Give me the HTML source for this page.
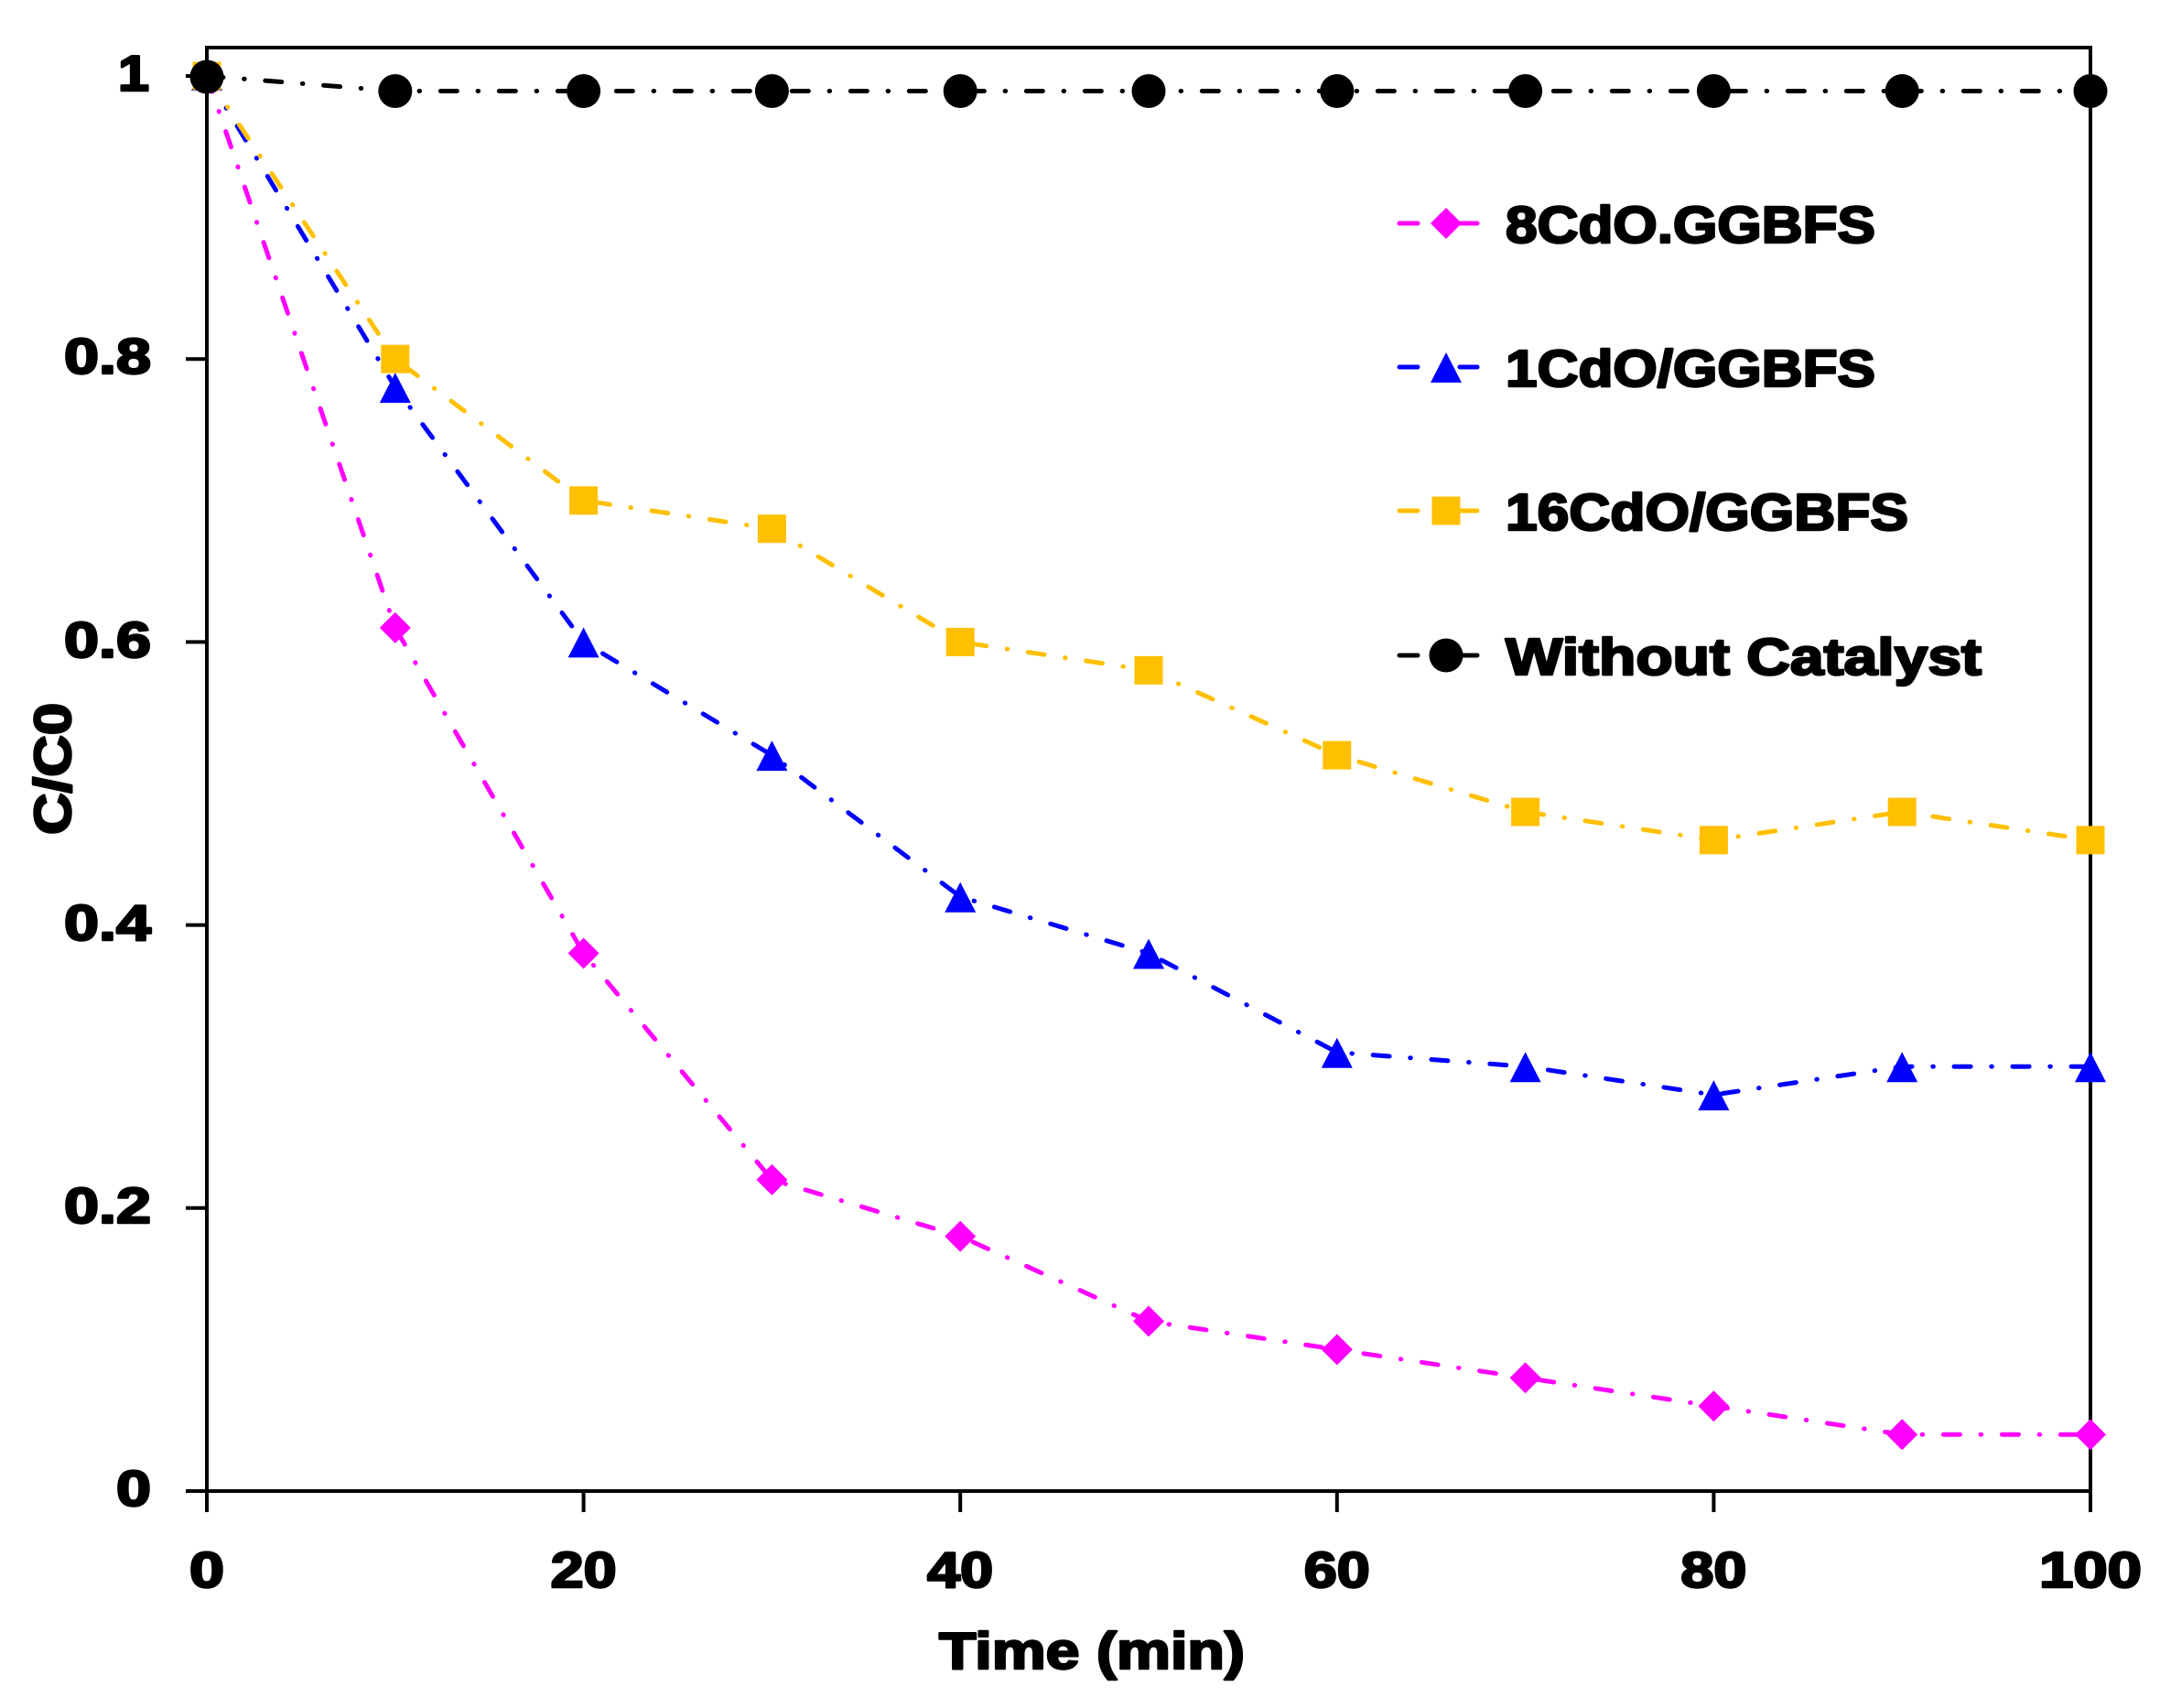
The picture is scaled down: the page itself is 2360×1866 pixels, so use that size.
<!DOCTYPE html>
<html>
<head>
<meta charset="utf-8">
<style>
  html, body { margin: 0; padding: 0; background: #ffffff; }
  svg { display: block; }
  .t { font-family: "Liberation Sans", Arial, sans-serif; font-weight: bold; fill: #000; stroke: #000; stroke-width: 2.5; stroke-linejoin: round; }
</style>
</head>
<body>
<svg width="2360" height="1866" viewBox="0 0 2360 1866" xmlns="http://www.w3.org/2000/svg">
  <rect x="0" y="0" width="2360" height="1866" fill="#ffffff"/>

  <!-- frame -->
  <rect x="226" y="52" width="2058" height="1577" fill="none" stroke="#000" stroke-width="4"/>

  <!-- y ticks -->
  <g stroke="#000" stroke-width="4">
    <line x1="203" y1="1629" x2="226" y2="1629"/>
    <line x1="203" y1="1319.8" x2="226" y2="1319.8"/>
    <line x1="203" y1="1010.6" x2="226" y2="1010.6"/>
    <line x1="203" y1="701.4" x2="226" y2="701.4"/>
    <line x1="203" y1="392.2" x2="226" y2="392.2"/>
    <line x1="203" y1="83" x2="226" y2="83"/>
  </g>
  <!-- x ticks -->
  <g stroke="#000" stroke-width="4">
    <line x1="226" y1="1629" x2="226" y2="1652"/>
    <line x1="637.6" y1="1629" x2="637.6" y2="1652"/>
    <line x1="1049.2" y1="1629" x2="1049.2" y2="1652"/>
    <line x1="1460.8" y1="1629" x2="1460.8" y2="1652"/>
    <line x1="1872.4" y1="1629" x2="1872.4" y2="1652"/>
    <line x1="2284" y1="1629" x2="2284" y2="1652"/>
  </g>

  <!-- y tick labels -->
  <g class="t" font-size="55" text-anchor="end">
    <text x="165" y="1645" textLength="38" lengthAdjust="spacingAndGlyphs">0</text>
    <text x="165" y="1336" textLength="95" lengthAdjust="spacingAndGlyphs">0.2</text>
    <text x="165" y="1027" textLength="95" lengthAdjust="spacingAndGlyphs">0.4</text>
    <text x="165" y="718" textLength="95" lengthAdjust="spacingAndGlyphs">0.6</text>
    <text x="165" y="408" textLength="95" lengthAdjust="spacingAndGlyphs">0.8</text>
    <text x="163" y="99" textLength="34" lengthAdjust="spacingAndGlyphs">1</text>
  </g>

  <!-- x tick labels -->
  <g class="t" font-size="55" text-anchor="middle">
    <text x="226" y="1734" textLength="38" lengthAdjust="spacingAndGlyphs">0</text>
    <text x="637.6" y="1734" textLength="72" lengthAdjust="spacingAndGlyphs">20</text>
    <text x="1049.2" y="1734" textLength="72" lengthAdjust="spacingAndGlyphs">40</text>
    <text x="1460.8" y="1734" textLength="72" lengthAdjust="spacingAndGlyphs">60</text>
    <text x="1872.4" y="1734" textLength="72" lengthAdjust="spacingAndGlyphs">80</text>
    <text x="2284" y="1734" textLength="112" lengthAdjust="spacingAndGlyphs">100</text>
  </g>

  <!-- axis titles -->
  <text class="t" font-size="57" x="1193" y="1823" text-anchor="middle" textLength="334" lengthAdjust="spacingAndGlyphs">Time (min)</text>
  <text class="t" font-size="57" text-anchor="middle" transform="translate(77,840) rotate(-90)" textLength="144" lengthAdjust="spacingAndGlyphs">C/C0</text>

  <!-- series lines -->
  <g fill="none" stroke-width="5" stroke-linecap="round" stroke-linejoin="round" stroke-dasharray="18 22.75 0.5 22.75">
    <polyline stroke="#FF00FF" points="226,83 431.8,685.9 637.6,1041.5 843.4,1288.9 1049.2,1350.7 1255,1443.5 1460.8,1474.4 1666.6,1505.3 1872.4,1536.2 2078.2,1567.2 2284,1567.2"/>
    <polyline stroke="#0000FF" points="226,83 431.8,423.1 637.6,701.4 843.4,825.1 1049.2,979.7 1255,1041.5 1460.8,1149.7 1666.6,1165.2 1872.4,1196.1 2078.2,1165.2 2284,1165.2"/>
    <polyline stroke="#FFC000" points="226,83 431.8,392.2 637.6,546.8 843.4,577.7 1049.2,701.4 1255,732.3 1460.8,825.1 1666.6,887 1872.4,917.8 2078.2,887 2284,917.8"/>
    <polyline stroke="#000000" points="226,83 431.8,99.5 637.6,99.5 843.4,99.5 1049.2,99.5 1255,99.5 1460.8,99.5 1666.6,99.5 1872.4,99.5 2078.2,99.5 2284,99.5"/>
  </g>

  <!-- magenta diamonds -->
  <g fill="#FF00FF">
    <polygon points="226,66 243,83 226,100 209,83"/>
    <polygon points="431.8,668.9 448.8,685.9 431.8,702.9 414.8,685.9"/>
    <polygon points="637.6,1024.5 654.6,1041.5 637.6,1058.5 620.6,1041.5"/>
    <polygon points="843.4,1271.9 860.4,1288.9 843.4,1305.9 826.4,1288.9"/>
    <polygon points="1049.2,1333.7 1066.2,1350.7 1049.2,1367.7 1032.2,1350.7"/>
    <polygon points="1255,1426.5 1272,1443.5 1255,1460.5 1238,1443.5"/>
    <polygon points="1460.8,1457.4 1477.8,1474.4 1460.8,1491.4 1443.8,1474.4"/>
    <polygon points="1666.6,1488.3 1683.6,1505.3 1666.6,1522.3 1649.6,1505.3"/>
    <polygon points="1872.4,1519.2 1889.4,1536.2 1872.4,1553.2 1855.4,1536.2"/>
    <polygon points="2078.2,1550.2 2095.2,1567.2 2078.2,1584.2 2061.2,1567.2"/>
    <polygon points="2284,1550.2 2301,1567.2 2284,1584.2 2267,1567.2"/>
  </g>

  <!-- blue triangles -->
  <g fill="#0000FF">
    <polygon points="226,66 243,99 209,99"/>
    <polygon points="431.8,407.1 448.8,440.1 414.8,440.1"/>
    <polygon points="637.6,685.4 654.6,718.4 620.6,718.4"/>
    <polygon points="843.4,809.1 860.4,842.1 826.4,842.1"/>
    <polygon points="1049.2,963.7 1066.2,996.7 1032.2,996.7"/>
    <polygon points="1255,1025.5 1272,1058.5 1238,1058.5"/>
    <polygon points="1460.8,1133.7 1477.8,1166.7 1443.8,1166.7"/>
    <polygon points="1666.6,1149.2 1683.6,1182.2 1649.6,1182.2"/>
    <polygon points="1872.4,1180.1 1889.4,1213.1 1855.4,1213.1"/>
    <polygon points="2078.2,1149.2 2095.2,1182.2 2061.2,1182.2"/>
    <polygon points="2284,1149.2 2301,1182.2 2267,1182.2"/>
  </g>

  <!-- orange squares -->
  <g fill="#FFC000">
    <rect x="210.5" y="67.5" width="31" height="31"/>
    <rect x="416.3" y="376.7" width="31" height="31"/>
    <rect x="622.1" y="531.3" width="31" height="31"/>
    <rect x="827.9" y="562.2" width="31" height="31"/>
    <rect x="1033.7" y="685.9" width="31" height="31"/>
    <rect x="1239.5" y="716.8" width="31" height="31"/>
    <rect x="1445.3" y="809.6" width="31" height="31"/>
    <rect x="1651.1" y="871.5" width="31" height="31"/>
    <rect x="1856.9" y="902.3" width="31" height="31"/>
    <rect x="2062.7" y="871.5" width="31" height="31"/>
    <rect x="2268.5" y="902.3" width="31" height="31"/>
  </g>

  <!-- black circles -->
  <g fill="#000000">
    <circle cx="226" cy="84" r="18.5"/>
    <circle cx="431.8" cy="99.5" r="18.5"/>
    <circle cx="637.6" cy="99.5" r="18.5"/>
    <circle cx="843.4" cy="99.5" r="18.5"/>
    <circle cx="1049.2" cy="99.5" r="18.5"/>
    <circle cx="1255" cy="99.5" r="18.5"/>
    <circle cx="1460.8" cy="99.5" r="18.5"/>
    <circle cx="1666.6" cy="99.5" r="18.5"/>
    <circle cx="1872.4" cy="99.5" r="18.5"/>
    <circle cx="2078.2" cy="99.5" r="18.5"/>
    <circle cx="2284" cy="99.5" r="18.5"/>
  </g>

  <!-- legend -->
  <g stroke-width="5" stroke-linecap="round">
    <line x1="1529" y1="244" x2="1549" y2="244" stroke="#FF00FF"/>
    <line x1="1595" y1="244" x2="1614" y2="244" stroke="#FF00FF"/>
    <line x1="1529" y1="401" x2="1549" y2="401" stroke="#0000FF"/>
    <line x1="1595" y1="401" x2="1614" y2="401" stroke="#0000FF"/>
    <line x1="1529" y1="558" x2="1549" y2="558" stroke="#FFC000"/>
    <line x1="1595" y1="558" x2="1614" y2="558" stroke="#FFC000"/>
    <line x1="1529" y1="716" x2="1549" y2="716" stroke="#000000"/>
    <line x1="1595" y1="716" x2="1614" y2="716" stroke="#000000"/>
  </g>
  <polygon fill="#FF00FF" points="1580,227 1597,244 1580,261 1563,244"/>
  <polygon fill="#0000FF" points="1580,385 1597,418 1563,418"/>
  <rect fill="#FFC000" x="1564.5" y="542.5" width="31" height="31"/>
  <circle fill="#000000" cx="1580" cy="716" r="18.5"/>

  <g class="t" font-size="57">
    <text x="1645" y="265" textLength="404" lengthAdjust="spacingAndGlyphs">8CdO.GGBFS</text>
    <text x="1645" y="422" textLength="404" lengthAdjust="spacingAndGlyphs">1CdO/GGBFS</text>
    <text x="1645" y="579" textLength="440" lengthAdjust="spacingAndGlyphs">16CdO/GGBFS</text>
    <text x="1645" y="737" textLength="520" lengthAdjust="spacingAndGlyphs">Without Catalyst</text>
  </g>
</svg>
</body>
</html>
